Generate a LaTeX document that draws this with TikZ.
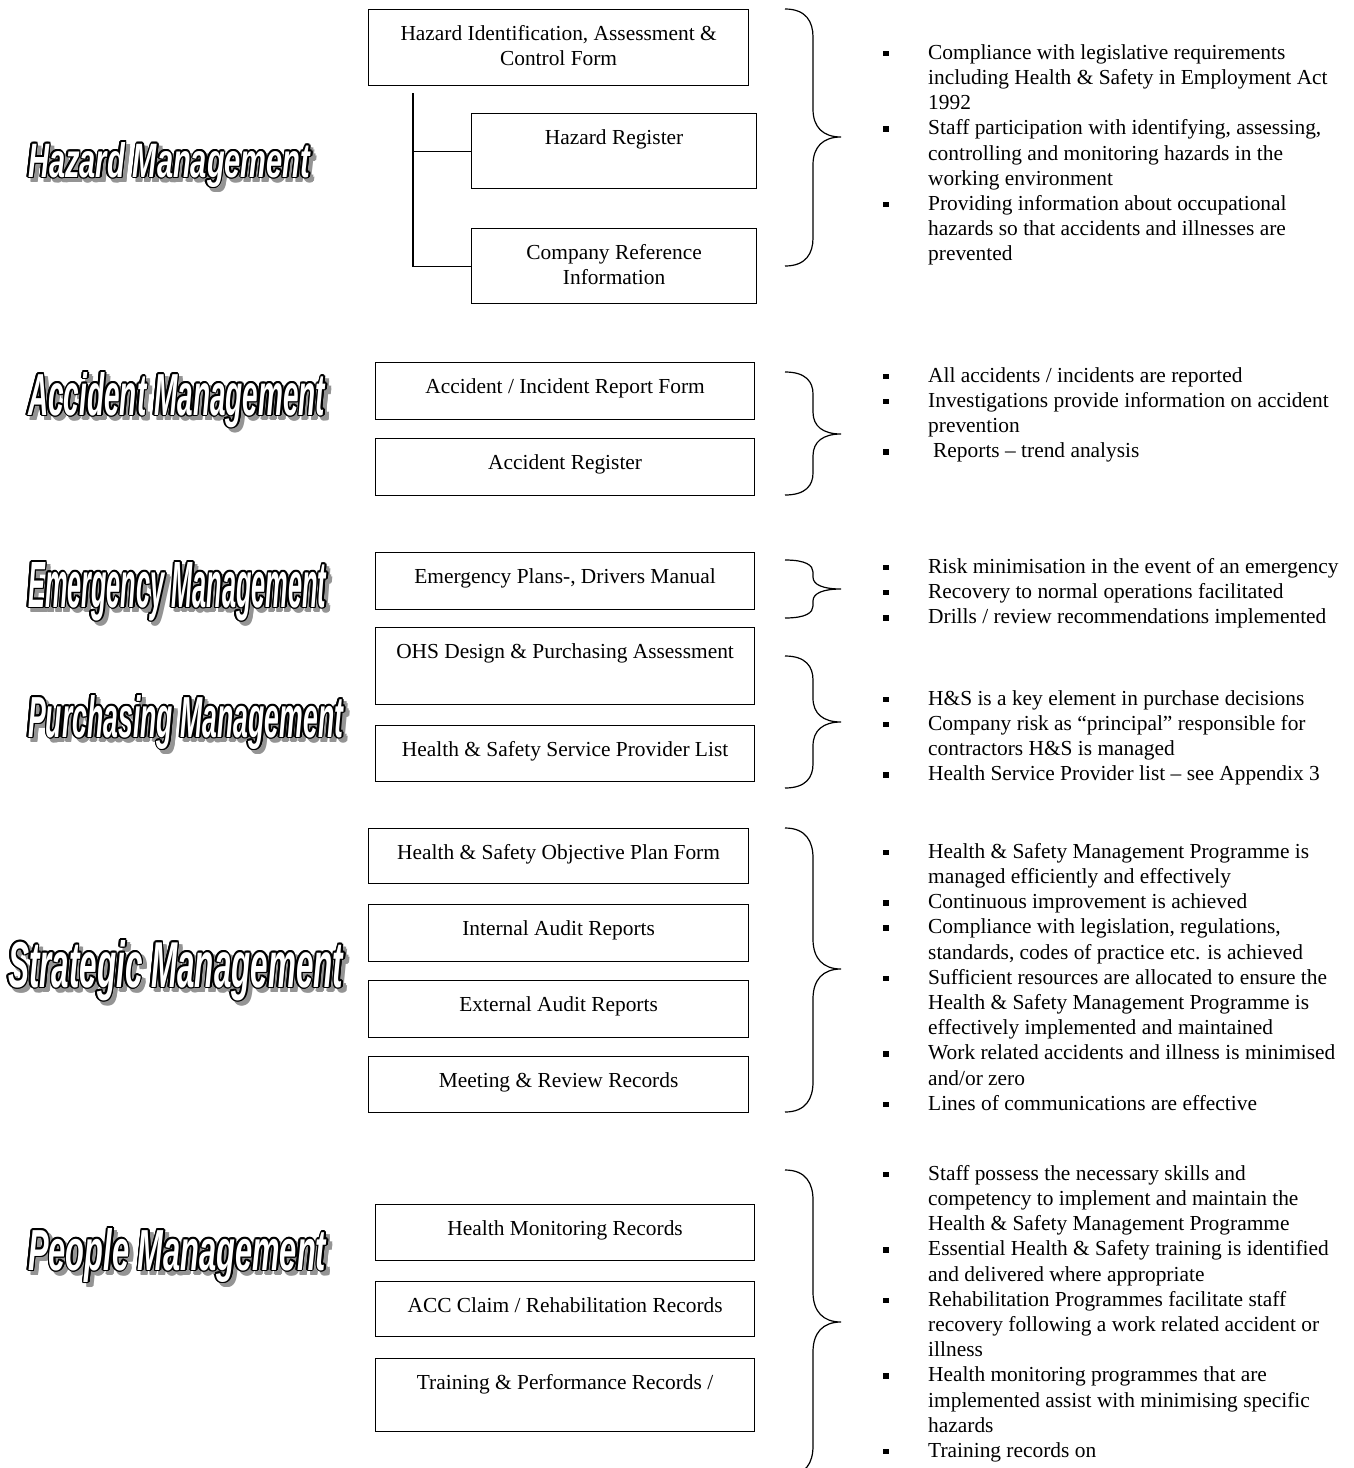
\documentclass[tikz,border=0pt]{standalone}
\usepackage{fontspec}
\usepackage{graphicx}
\setmainfont{Liberation Serif}
\newfontfamily\artfont{Liberation Sans}
\colorlet{shadowgray}{black!42}

\newcommand\bodyfont{\fontsize{21.4}{25.2}\selectfont}
\newcommand\tstrut{\rule{0pt}{16pt}}
\newcommand\bul{\tstrut\makebox[45pt][l]{\rule[3pt]{5.5pt}{5.5pt}}}
\newcommand\ind{\hspace*{45pt}}

% outlined, shadowed heading: name, x, baseline y, width, height, text
\newcommand\wordart[6]{%
  \foreach \a in {0,45,...,315}
    \node[anchor=base west, inner sep=0pt, text=shadowgray,
          xshift={4pt+1.7pt*cos(\a)}, yshift={-4pt+1.7pt*sin(\a)}] at (#2,#3)
          {\resizebox{#4pt}{#5pt}{\artfont\bfseries\itshape #6}};
  \foreach \a in {0,30,...,330}
    \node[anchor=base west, inner sep=0pt, text=black,
          xshift={1.7pt*cos(\a)}, yshift={1.7pt*sin(\a)}] at (#2,#3)
          {\resizebox{#4pt}{#5pt}{\artfont\bfseries\itshape #6}};
  \node[anchor=base west, inner sep=0pt, text=white] (#1) at (#2,#3)
        {\resizebox{#4pt}{#5pt}{\artfont\bfseries\itshape #6}};
}

% curly brace: top y, tip y, bottom y, bend
\newcommand\curly[4]{%
  \draw[brc] (785,#1) .. controls (806,#1) and (813,#1+#4*0.45) .. (813,#1+#4)
    -- (813,#2-#4) .. controls (813,#2-#4*0.35) and (823,#2) .. (841,#2)
    .. controls (823,#2) and (813,#2+#4*0.35) .. (813,#2+#4)
    -- (813,#3-#4) .. controls (813,#3-#4*0.45) and (806,#3) .. (785,#3);
}

\begin{document}
\begin{tikzpicture}[x=1pt, y=-1pt,
  box/.style={draw, line width=1.2pt, inner sep=0pt, anchor=north west},
  boxtext/.style={anchor=north, inner sep=0pt, align=center, font=\bodyfont},
  bullets/.style={anchor=north west, inner sep=0pt, align=left, font=\bodyfont},
  brc/.style={line width=1.2pt},
  link/.style={line width=1.2pt}]

\fill[white] (0,0) rectangle (1354,1468);
\useasboundingbox (0,0) rectangle (1354,1468);

% ---------------- headings
\wordart{tHaz}{28}{177}{282}{35}{Hazard Management}
\wordart{tAcc}{28}{415}{297}{43}{Accident Management}
\wordart{tEme}{28}{607}{298}{45}{Emergency Management}
\wordart{tPur}{28}{737}{315}{42}{Purchasing Management}
\wordart{tStr}{8}{987}{335}{47}{Strategic Management}
\wordart{tPeo}{28}{1270}{298}{42}{People Management}

% ---------------- hazard management
\node[box, minimum width=380pt, minimum height=76pt] (h1) at (368,9) {};
\node[box, minimum width=285pt, minimum height=75pt] (h2) at (471,113) {};
\node[box, minimum width=285pt, minimum height=75pt] (h3) at (471,228) {};
\node[boxtext] (h1t) at ([yshift=-15pt]h1.north) {\tstrut Hazard Identification, Assessment \&\\Control Form};
\node[boxtext] (h2t) at ([yshift=-15pt]h2.north) {\tstrut Hazard Register};
\node[boxtext] (h3t) at ([yshift=-15pt]h3.north) {\tstrut Company Reference\\Information};
\coordinate (trunk) at (413,93);
\draw[link] (trunk) |- (h3.west);
\draw[link] (trunk |- h2.west) -- (h2.west);
\curly{9}{137}{266}{28}
\node[bullets] (hb) at (883,43) {%
\bul Compliance with legislative requirements\\
\ind including Health \& Safety in Employment Act\\
\ind 1992\\
\bul Staff participation with identifying, assessing,\\
\ind controlling and monitoring hazards in the\\
\ind working environment\\
\bul Providing information about occupational\\
\ind hazards so that accidents and illnesses are\\
\ind prevented};

% ---------------- accident management
\node[box, minimum width=379pt, minimum height=57pt] (a1) at (375,362) {};
\node[box, minimum width=379pt, minimum height=57pt] (a2) at (375,438) {};
\node[boxtext] (a1t) at ([yshift=-15pt]a1.north) {\tstrut Accident / Incident Report Form};
\node[boxtext] (a2t) at ([yshift=-15pt]a2.north) {\tstrut Accident Register};
\curly{372}{434}{495}{22}
\node[bullets] (ab) at (883,366) {%
\bul All accidents / incidents are reported\\
\bul Investigations provide information on accident\\
\ind prevention\\
\bul \hspace*{5pt}Reports – trend analysis};

% ---------------- emergency management
\node[box, minimum width=379pt, minimum height=57pt] (e1) at (375,552) {};
\node[boxtext] (e1t) at ([yshift=-15pt]e1.north) {\tstrut Emergency Plans-, Drivers Manual};
\curly{560}{589}{618}{12}
\node[bullets] (eb) at (883,557) {%
\bul Risk minimisation in the event of an emergency\\
\bul Recovery to normal operations facilitated\\
\bul Drills / review recommendations implemented};

% ---------------- purchasing management
\node[box, minimum width=379pt, minimum height=77pt] (p1) at (375,627) {};
\node[box, minimum width=379pt, minimum height=56pt] (p2) at (375,725) {};
\node[boxtext] (p1t) at ([yshift=-15pt]p1.north) {\tstrut OHS Design \& Purchasing Assessment};
\node[boxtext] (p2t) at ([yshift=-15pt]p2.north) {\tstrut Health \& Safety Service Provider List};
\curly{656}{722}{788}{24}
\node[bullets] (pb) at (883,689) {%
\bul H\&S is a key element in purchase decisions\\
\bul Company risk as “principal” responsible for\\
\ind contractors H\&S is managed\\
\bul Health Service Provider list – see Appendix 3};

% ---------------- strategic management
\node[box, minimum width=380pt, minimum height=55pt] (s1) at (368,828) {};
\node[box, minimum width=380pt, minimum height=57pt] (s2) at (368,904) {};
\node[box, minimum width=380pt, minimum height=57pt] (s3) at (368,980) {};
\node[box, minimum width=380pt, minimum height=56pt] (s4) at (368,1056) {};
\node[boxtext] (s1t) at ([yshift=-15pt]s1.north) {\tstrut Health \& Safety Objective Plan Form};
\node[boxtext] (s2t) at ([yshift=-15pt]s2.north) {\tstrut Internal Audit Reports};
\node[boxtext] (s3t) at ([yshift=-15pt]s3.north) {\tstrut External Audit Reports};
\node[boxtext] (s4t) at ([yshift=-15pt]s4.north) {\tstrut Meeting \& Review Records};
\curly{828}{969}{1112}{30}
\node[bullets] (sb) at (883,842) {%
\bul Health \& Safety Management Programme is\\
\ind managed efficiently and effectively\\
\bul Continuous improvement is achieved\\
\bul Compliance with legislation, regulations,\\
\ind standards, codes of practice etc. is achieved\\
\bul Sufficient resources are allocated to ensure the\\
\ind Health \& Safety Management Programme is\\
\ind effectively implemented and maintained\\
\bul Work related accidents and illness is minimised\\
\ind and/or zero\\
\bul Lines of communications are effective};

% ---------------- people management
\node[box, minimum width=379pt, minimum height=56pt] (m1) at (375,1204) {};
\node[box, minimum width=379pt, minimum height=55pt] (m2) at (375,1281) {};
\node[box, minimum width=379pt, minimum height=73pt] (m3) at (375,1358) {};
\node[boxtext] (m1t) at ([yshift=-15pt]m1.north) {\tstrut Health Monitoring Records};
\node[boxtext] (m2t) at ([yshift=-15pt]m2.north) {\tstrut ACC Claim / Rehabilitation Records};
\node[boxtext] (m3t) at ([yshift=-15pt]m3.north) {\tstrut Training \& Performance Records /};
\curly{1170}{1322}{1476}{30}
\node[bullets] (mb) at (883,1164) {%
\bul Staff possess the necessary skills and\\
\ind competency to implement and maintain the\\
\ind Health \& Safety Management Programme\\
\bul Essential Health \& Safety training is identified\\
\ind and delivered where appropriate\\
\bul Rehabilitation Programmes facilitate staff\\
\ind recovery following a work related accident or\\
\ind illness\\
\bul Health monitoring programmes that are\\
\ind implemented assist with minimising specific\\
\ind hazards\\
\bul Training records on};

\end{tikzpicture}
\end{document}
